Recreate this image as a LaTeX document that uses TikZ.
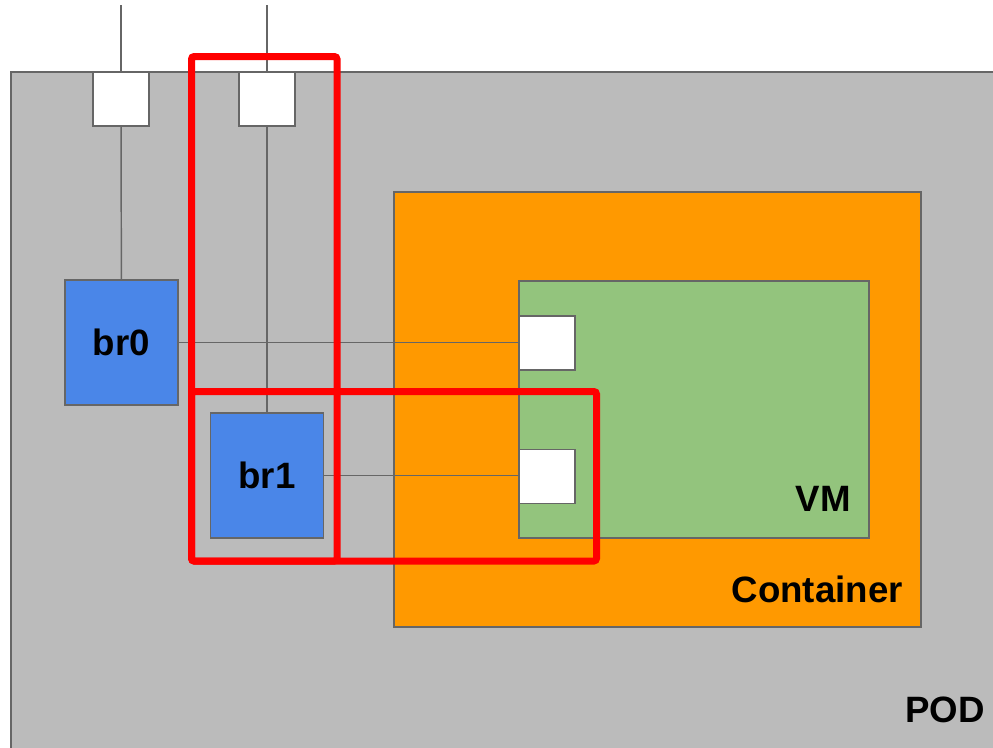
\documentclass[tikz,border=0pt]{standalone}
\usepackage{fontspec}
\setmainfont{Liberation Sans}
\usepackage{tikz}
\usepackage{xcolor}
\usetikzlibrary{calc,positioning}

\definecolor{podgray}{HTML}{BBBBBB}
\definecolor{edgegray}{HTML}{666666}
\definecolor{brblue}{HTML}{4A86E8}
\definecolor{ctorange}{HTML}{FF9900}
\definecolor{vmgreen}{HTML}{93C47D}

\begin{document}
\begin{tikzpicture}[
		x=0.75pt,
		y=-0.75pt,
		line cap=butt,
		line join=miter,
		wire/.style={
			draw=edgegray,
			line width=1.1pt
		},
		box/.style={
			draw=edgegray,
			line width=1.1pt,
			inner sep=0pt,
			outer sep=0pt
		},
		port/.style={
			box,
			fill=white,
			minimum width=42pt,
			minimum height=40.5pt
		},
		bridge/.style={
			box,
			fill=brblue,
			minimum width=85pt,
			minimum height=93.75pt,
			font=\bfseries\fontsize{27.5}{30}\selectfont
		},
		lbl/.style={
			font=\bfseries\fontsize{27.5}{30}\selectfont,
			inner sep=0pt
		},
		hilite/.style={
			draw=red,
			line width=5.25pt,
			rounded corners=2pt
		}
		]
		
		% page
		\useasboundingbox (0,0) rectangle (993,747);
		\clip (0,0) rectangle (993,747);
		\fill[white] (0,0) rectangle (993,747);
		
		% pod
		\filldraw[fill=podgray,draw=edgegray,line width=1.1pt] (11,72) rectangle (1010,770);
		
		% container and vm
		\node[box,fill=ctorange,minimum width=395.25pt,minimum height=326.25pt] (ctr) at (657.5,409.5) {};
		\node[box,fill=vmgreen,minimum width=262.5pt,minimum height=192.75pt] (vm) at (694,409.5) {};
		
		% free ends at the top
		\coordinate (t0) at (121,5);
		\coordinate (t1) at (267,5);
		
		% ports on the pod edge
		\node[port] (p0) at (121,99) {};
		\node[port] (p1) at (267,99) {};
		
		% ports in the vm
		\node[port] (vp0) at (547,343) {};
		\node[port] (vp1) at (547,476.5) {};
		
		% bridges
		\node[bridge] (br0) at (121.5,342.5) {br0};
		\node[bridge] (br1) at (267,475.5) {br1};
		
		% wires
		\draw[wire] (t0) -- (p0);
		\draw[wire] (t1) -- (p1);
		\draw[wire] (p0) -- (br0);
		\draw[wire] (p1) -- (br1);
		\draw[wire] (br0.east) -- (br0.east -| vp0.west);
		\draw[wire] (br1.east) -- (br1.east -| vp1.west);
		
		% highlights
		\draw[hilite] (191.5,56.5) rectangle (337,561);
		\draw[hilite] (191.5,391.5) rectangle (596.5,561);
		
		% labels
		\node[lbl,anchor=east] (vmlbl) at (851,499) {VM};
		\node[lbl,anchor=east] (ctrlbl) at (903,589) {Container};
		\node[lbl,anchor=east] (podlbl) at (985,710) {POD};
\end{tikzpicture}
\end{document}
